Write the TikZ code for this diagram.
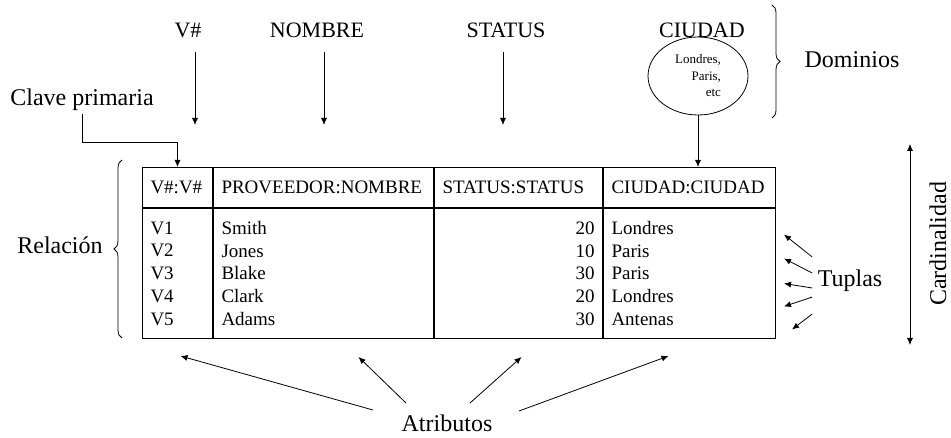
\documentclass[tikz,border=0pt]{standalone}
\usepackage{fontspec}
\setmainfont{Liberation Serif}
\usetikzlibrary{shapes.geometric,decorations.pathreplacing,arrows.meta}
\tikzset{
  big/.style={font=\fontsize{24}{28}\selectfont},
  mid/.style={font=\fontsize{22}{26}\selectfont},
  cell/.style={draw,line width=1pt,anchor=north west,inner xsep=8pt,inner ysep=0pt,align=left,text width=#1,font=\fontsize{19}{22.7}\selectfont},
  ar/.style={-{Latex[length=7pt,width=6pt]},line width=0.8pt},
  brc/.style={decorate,decoration={brace,amplitude=8pt},line width=0.8pt}
}

\begin{document}
\begin{tikzpicture}[x=1pt,y=-1pt]
\useasboundingbox (0,0) rectangle (951,438);
% dominios
\node[mid] (v) at (188,30) {V\#};
\node[mid] (nom) at (317,30) {NOMBRE};
\node[mid] (st) at (506,30) {STATUS};
\node[mid] (ci) at (702,30) {CIUDAD};
\node[draw,ellipse,line width=0.8pt,minimum width=100,minimum height=78,inner sep=0pt,align=right,font=\fontsize{13}{16.5}\selectfont] (dom) at (698,76) {Londres,\\Paris,\\etc};
\draw[brc] (772,5) -- (772,118);
\node[big] (dm) at (852,60) {Dominios};
% la relacion
\node[cell=54,minimum height=40] (hv) at (142,167) {V\#:V\#};
\node[cell=204,minimum height=40] (hn) at (hv.north east) {PROVEEDOR:NOMBRE};
\node[cell=152,minimum height=40] (hs) at (hn.north east) {STATUS:STATUS};
\node[cell=156,minimum height=40] (hc) at (hs.north east) {CIUDAD:CIUDAD};
\node[cell=54,minimum height=130] (bv) at (hv.south west) {V1\\V2\\V3\\V4\\V5};
\node[cell=204,minimum height=130] (bn) at (hn.south west) {Smith\\Jones\\Blake\\Clark\\Adams};
\node[cell=152,minimum height=130,align=right] (bs) at (hs.south west) {20\\10\\30\\20\\30};
\node[cell=156,minimum height=130] (bc) at (hc.south west) {Londres\\Paris\\Paris\\Londres\\Antenas};
\draw[brc] (122,338) -- (122,160);
\node[big] (rel) at (60,245) {Relación};
% flechas de los dominios
\coordinate (vt) at (195,125);
\coordinate (nt) at (324,125);
\coordinate (stt) at (503,125);
\draw[ar,shorten <=11pt] (vt |- v.south) -- (vt);
\draw[ar,shorten <=11pt] (nt |- nom.south) -- (nt);
\draw[ar,shorten <=11pt] (stt |- st.south) -- (stt);
\draw[ar] (dom.south) -- (dom.south |- hc.north);
\node[big] (cp) at (82,100) {Clave primaria};
\coordinate (cpk) at (82,142);
\draw[ar] (cp.south) -- (cpk) -| (hv.north);
% tuplas y cardinalidad
\node[big] (tu) at (850,281) {Tuplas};
\foreach \sy/\ex/\ey in {-24/8/-39,-8/8/-15,7/8/10,16/8/33,33/16/56}
  \draw[ar] ([shift={(-2,\sy)}]tu.west) -- ([shift={(\ex,\ey)}]bc.east);
\coordinate (ct) at (910,144);
\coordinate (cb) at (910,345);
\draw[{Latex[length=7pt,width=6pt]}-{Latex[length=7pt,width=6pt]},line width=0.8pt] (ct) -- (cb);
\node[big,rotate=90] (card) at (938,244) {Cardinalidad};
% atributos
\node[big] (at) at (447,423) {Atributos};
\draw[ar] ([shift={(-74,-13)}]at.center) -- ([shift={(3,17)}]bv.south);
\draw[ar] ([shift={(-41,-20)}]at.center) -- ([shift={(35,18)}]bn.south);
\draw[ar] ([shift={(23,-20)}]at.center) -- ([shift={(3,18)}]bs.south);
\draw[ar] ([shift={(72,-12)}]at.center) -- ([shift={(-21,17)}]bc.south);
\end{tikzpicture}
\end{document}
